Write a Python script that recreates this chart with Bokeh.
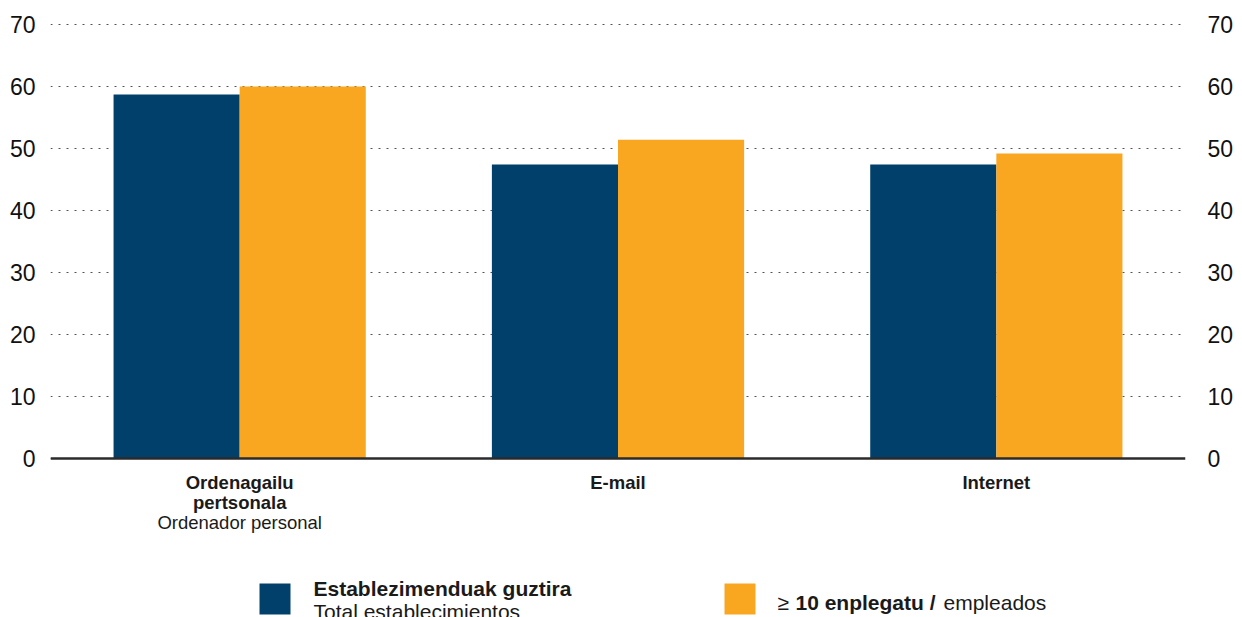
from bokeh.plotting import figure
from bokeh.models import ColumnDataSource, FactorRange, Range1d, LinearAxis, FixedTicker, Span
from bokeh.transform import dodge
from bokeh.core.properties import value
from bokeh.embed import file_html
from bokeh.resources import INLINE

# ---- data ----
categories = ["Ordenagailu pertsonala", "E-mail", "Internet"]
label_eu = [["Ordenagailu", "pertsonala"], ["E-mail"], ["Internet"]]
label_es = ["Ordenador personal", "", ""]
total = [58.7, 47.4, 47.4]
ge10 = [60.0, 51.4, 49.2]
y_ticks = [0, 10, 20, 30, 40, 50, 60, 70]
legend1_eu = "Establezimenduak guztira"
legend1_es = "Total establecimientos"
legend2_parts = ["\u2265", "10 enplegatu /", "empleados"]

BLUE = "#00406B"
ORANGE = "#F9A621"
FONT = "Liberation Sans"
TXT = "#1a1a1a"

# ---- layout (page pixels) ----
W, H = 1242, 617
FL, FR, FT = 50, 1185, 20          # frame left / right / top
ZERO_Y = 458                        # pixel row of value 0
PX_PER_70 = 434                     # pixels from 0 to 70
y_max = 70 * (ZERO_Y - FT) / PX_PER_70
y_min = -70 * (H - ZERO_Y) / PX_PER_70


def px_x(px):
    """page pixel column -> synthetic categorical coordinate"""
    return (px - FL) / (FR - FL) * len(categories)


def px_w(px):
    return px / (FR - FL) * len(categories)


src = ColumnDataSource(dict(cat=categories, total=total, ge10=ge10))

p = figure(x_range=FactorRange(*categories), y_range=Range1d(y_min, y_max),
           width=W, height=H, output_backend="svg", toolbar_location=None,
           x_axis_location=None,
           min_border_left=FL, min_border_right=W - FR, min_border_top=FT, min_border_bottom=0)
p.outline_line_color = None
p.background_fill_color = "white"
p.border_fill_color = "white"
p.xgrid.visible = False
p.extra_y_ranges = {"px": Range1d(H, FT)}

ticker = FixedTicker(ticks=y_ticks)
p.yaxis.ticker = ticker
p.ygrid.ticker = ticker
p.ygrid.grid_line_color = "#555555"
p.ygrid.grid_line_dash = "2 6"
p.ygrid.grid_line_width = 1.2

for ax in p.yaxis:
    ax.axis_line_color = None
    ax.major_tick_line_color = None
    ax.minor_tick_line_color = None
    ax.major_tick_out = 0
    ax.major_label_text_font = FONT
    ax.major_label_text_font_size = "23px"
    ax.major_label_text_color = "#111111"
    ax.major_label_standoff = 15

rax = LinearAxis(ticker=ticker)
rax.axis_line_color = None
rax.major_tick_line_color = None
rax.minor_tick_line_color = None
rax.major_tick_out = 0
rax.major_label_text_font = FONT
rax.major_label_text_font_size = "23px"
rax.major_label_text_color = "#111111"
rax.major_label_standoff = 22
p.add_layout(rax, "right")

p.vbar(x=dodge("cat", -1/6, range=p.x_range), top="total", width=1/3, source=src,
       fill_color=BLUE, line_color=None)
p.vbar(x=dodge("cat", 1/6, range=p.x_range), top="ge10", width=1/3, source=src,
       fill_color=ORANGE, line_color=None)

p.add_layout(Span(location=0, dimension="width", line_color="#2b2b2b", line_width=2.5))

# ---- category labels (x from the categorical scale, baselines in page px) ----
baselines = [482, 502, 522]
lx, ly, lt, ls = [], [], [], []
for i, cat in enumerate(categories):
    lines = [(t, "bold") for t in label_eu[i]]
    if label_es[i]:
        lines.append((label_es[i], "normal"))
    for k, (t, style) in enumerate(lines):
        lx.append(cat); ly.append(baselines[k]); lt.append(t); ls.append(style)
lab_src = ColumnDataSource(dict(x=lx, y=ly, text=lt, style=ls))
p.text(x="x", y="y", text="text", source=lab_src, y_range_name="px",
       text_font=value(FONT), text_font_size="18.5px", text_font_style="style",
       text_color=TXT, text_align="center", text_baseline="alphabetic")

# ---- legend (page px) ----
p.rect(x=[px_x(274.5), px_x(739.5)], y=[598.5, 598.5], width=px_w(31), height=31,
       fill_color=[BLUE, ORANGE], line_color=None, y_range_name="px")
leg_src = ColumnDataSource(dict(
    x=[px_x(v) for v in [313, 313, 777, 795, 943]],
    y=[587.5, 610.5, 602, 602, 602],
    text=[legend1_eu, legend1_es] + legend2_parts,
    style=["bold", "normal", "normal", "bold", "normal"]))
p.text(x="x", y="y", text="text", source=leg_src, y_range_name="px",
       text_font=value(FONT), text_font_size="21px", text_font_style="style",
       text_color=TXT, text_align="left", text_baseline="alphabetic")

open("out.html", "w").write(file_html(p, INLINE))
